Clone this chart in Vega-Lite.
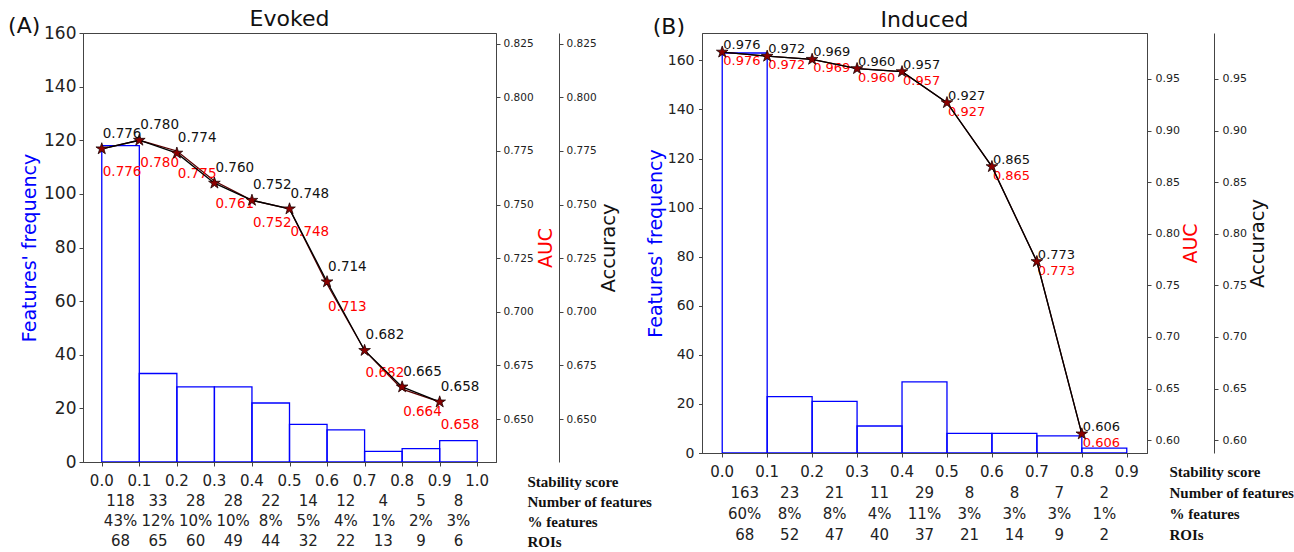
{
  "$schema": "https://vega.github.io/schema/vega-lite/v6.json",
  "padding": {"left": 8, "top": 7, "right": 0, "bottom": 0},
  "config": {
    "font": "DejaVu Sans",
    "view": {"stroke": "#444"},
    "axis": {"grid": false, "domainColor": "#444", "tickColor": "#444", "labelColor": "#222", "titleColor": "#111", "titleFontWeight": "normal", "labelFlush": false, "labelOverlap": false},
    "title": {"fontWeight": "normal", "color": "#111"}
  },
  "datasets": {
    "histA": [
      {"start": 0.0, "end": 0.1, "count": 118},
      {"start": 0.1, "end": 0.2, "count": 33},
      {"start": 0.2, "end": 0.3, "count": 28},
      {"start": 0.3, "end": 0.4, "count": 28},
      {"start": 0.4, "end": 0.5, "count": 22},
      {"start": 0.5, "end": 0.6, "count": 14},
      {"start": 0.6, "end": 0.7, "count": 12},
      {"start": 0.7, "end": 0.8, "count": 4},
      {"start": 0.8, "end": 0.9, "count": 5},
      {"start": 0.9, "end": 1.0, "count": 8}
    ],
    "lineA": [
      {"score": 0.0, "acc": 0.776, "auc": 0.776},
      {"score": 0.1, "acc": 0.780, "auc": 0.780},
      {"score": 0.2, "acc": 0.774, "auc": 0.775},
      {"score": 0.3, "acc": 0.760, "auc": 0.761},
      {"score": 0.4, "acc": 0.752, "auc": 0.752},
      {"score": 0.5, "acc": 0.748, "auc": 0.748},
      {"score": 0.6, "acc": 0.714, "auc": 0.713},
      {"score": 0.7, "acc": 0.682, "auc": 0.682},
      {"score": 0.8, "acc": 0.665, "auc": 0.664},
      {"score": 0.9, "acc": 0.658, "auc": 0.658}
    ],
    "tableA": [
      {"row": "Stability score", "pos": 0.0, "label": "0.0"},
      {"row": "Stability score", "pos": 0.1, "label": "0.1"},
      {"row": "Stability score", "pos": 0.2, "label": "0.2"},
      {"row": "Stability score", "pos": 0.3, "label": "0.3"},
      {"row": "Stability score", "pos": 0.4, "label": "0.4"},
      {"row": "Stability score", "pos": 0.5, "label": "0.5"},
      {"row": "Stability score", "pos": 0.6, "label": "0.6"},
      {"row": "Stability score", "pos": 0.7, "label": "0.7"},
      {"row": "Stability score", "pos": 0.8, "label": "0.8"},
      {"row": "Stability score", "pos": 0.9, "label": "0.9"},
      {"row": "Stability score", "pos": 1.0, "label": "1.0"},
      {"row": "Number of features", "pos": 0.05, "label": "118"},
      {"row": "Number of features", "pos": 0.15, "label": "33"},
      {"row": "Number of features", "pos": 0.25, "label": "28"},
      {"row": "Number of features", "pos": 0.35, "label": "28"},
      {"row": "Number of features", "pos": 0.45, "label": "22"},
      {"row": "Number of features", "pos": 0.55, "label": "14"},
      {"row": "Number of features", "pos": 0.65, "label": "12"},
      {"row": "Number of features", "pos": 0.75, "label": "4"},
      {"row": "Number of features", "pos": 0.85, "label": "5"},
      {"row": "Number of features", "pos": 0.95, "label": "8"},
      {"row": "% features", "pos": 0.05, "label": "43%"},
      {"row": "% features", "pos": 0.15, "label": "12%"},
      {"row": "% features", "pos": 0.25, "label": "10%"},
      {"row": "% features", "pos": 0.35, "label": "10%"},
      {"row": "% features", "pos": 0.45, "label": "8%"},
      {"row": "% features", "pos": 0.55, "label": "5%"},
      {"row": "% features", "pos": 0.65, "label": "4%"},
      {"row": "% features", "pos": 0.75, "label": "1%"},
      {"row": "% features", "pos": 0.85, "label": "2%"},
      {"row": "% features", "pos": 0.95, "label": "3%"},
      {"row": "ROIs", "pos": 0.05, "label": "68"},
      {"row": "ROIs", "pos": 0.15, "label": "65"},
      {"row": "ROIs", "pos": 0.25, "label": "60"},
      {"row": "ROIs", "pos": 0.35, "label": "49"},
      {"row": "ROIs", "pos": 0.45, "label": "44"},
      {"row": "ROIs", "pos": 0.55, "label": "32"},
      {"row": "ROIs", "pos": 0.65, "label": "22"},
      {"row": "ROIs", "pos": 0.75, "label": "13"},
      {"row": "ROIs", "pos": 0.85, "label": "9"},
      {"row": "ROIs", "pos": 0.95, "label": "6"}
    ],
    "histB": [
      {"start": 0.0, "end": 0.1, "count": 163},
      {"start": 0.1, "end": 0.2, "count": 23},
      {"start": 0.2, "end": 0.3, "count": 21},
      {"start": 0.3, "end": 0.4, "count": 11},
      {"start": 0.4, "end": 0.5, "count": 29},
      {"start": 0.5, "end": 0.6, "count": 8},
      {"start": 0.6, "end": 0.7, "count": 8},
      {"start": 0.7, "end": 0.8, "count": 7},
      {"start": 0.8, "end": 0.9, "count": 2}
    ],
    "lineB": [
      {"score": 0.0, "acc": 0.976, "auc": 0.976},
      {"score": 0.1, "acc": 0.972, "auc": 0.972},
      {"score": 0.2, "acc": 0.969, "auc": 0.969},
      {"score": 0.3, "acc": 0.960, "auc": 0.960},
      {"score": 0.4, "acc": 0.957, "auc": 0.957},
      {"score": 0.5, "acc": 0.927, "auc": 0.927},
      {"score": 0.6, "acc": 0.865, "auc": 0.865},
      {"score": 0.7, "acc": 0.773, "auc": 0.773},
      {"score": 0.8, "acc": 0.606, "auc": 0.606}
    ],
    "tableB": [
      {"row": "Stability score", "pos": 0.0, "label": "0.0"},
      {"row": "Stability score", "pos": 0.1, "label": "0.1"},
      {"row": "Stability score", "pos": 0.2, "label": "0.2"},
      {"row": "Stability score", "pos": 0.3, "label": "0.3"},
      {"row": "Stability score", "pos": 0.4, "label": "0.4"},
      {"row": "Stability score", "pos": 0.5, "label": "0.5"},
      {"row": "Stability score", "pos": 0.6, "label": "0.6"},
      {"row": "Stability score", "pos": 0.7, "label": "0.7"},
      {"row": "Stability score", "pos": 0.8, "label": "0.8"},
      {"row": "Stability score", "pos": 0.9, "label": "0.9"},
      {"row": "Number of features", "pos": 0.05, "label": "163"},
      {"row": "Number of features", "pos": 0.15, "label": "23"},
      {"row": "Number of features", "pos": 0.25, "label": "21"},
      {"row": "Number of features", "pos": 0.35, "label": "11"},
      {"row": "Number of features", "pos": 0.45, "label": "29"},
      {"row": "Number of features", "pos": 0.55, "label": "8"},
      {"row": "Number of features", "pos": 0.65, "label": "8"},
      {"row": "Number of features", "pos": 0.75, "label": "7"},
      {"row": "Number of features", "pos": 0.85, "label": "2"},
      {"row": "% features", "pos": 0.05, "label": "60%"},
      {"row": "% features", "pos": 0.15, "label": "8%"},
      {"row": "% features", "pos": 0.25, "label": "8%"},
      {"row": "% features", "pos": 0.35, "label": "4%"},
      {"row": "% features", "pos": 0.45, "label": "11%"},
      {"row": "% features", "pos": 0.55, "label": "3%"},
      {"row": "% features", "pos": 0.65, "label": "3%"},
      {"row": "% features", "pos": 0.75, "label": "3%"},
      {"row": "% features", "pos": 0.85, "label": "1%"},
      {"row": "ROIs", "pos": 0.05, "label": "68"},
      {"row": "ROIs", "pos": 0.15, "label": "52"},
      {"row": "ROIs", "pos": 0.25, "label": "47"},
      {"row": "ROIs", "pos": 0.35, "label": "40"},
      {"row": "ROIs", "pos": 0.45, "label": "37"},
      {"row": "ROIs", "pos": 0.55, "label": "21"},
      {"row": "ROIs", "pos": 0.65, "label": "14"},
      {"row": "ROIs", "pos": 0.75, "label": "9"},
      {"row": "ROIs", "pos": 0.85, "label": "2"}
    ]
  },
  "spacing": -7,
  "hconcat": [
    {
      "title": {"text": "(A)", "anchor": "start", "frame": "bounds", "fontSize": 22, "offset": 0, "dx": -12, "dy": 30},
      "spacing": 0,
      "vconcat": [
        {
          "title": {"text": "Evoked", "fontSize": 22, "offset": -7},
          "width": 413,
          "height": 429,
          "layer": [
            {
              "data": {"name": "histA"},
              "mark": {"type": "rect", "fill": "transparent", "stroke": "#0000ff", "strokeWidth": 1.3},
              "encoding": {
                "x": {"field": "start", "type": "quantitative", "scale": {"domain": [-0.05, 1.05], "nice": false, "zero": false},
                      "axis": {"values": [0, 0.1, 0.2, 0.3, 0.4, 0.5, 0.6, 0.7, 0.8, 0.9, 1.0], "labels": false, "tickSize": 4, "title": null, "zindex": 1}},
                "x2": {"field": "end"},
                "y": {"field": "count", "type": "quantitative", "scale": {"domain": [0, 160], "nice": false},
                      "axis": {"orient": "left", "values": [0, 20, 40, 60, 80, 100, 120, 140, 160], "title": "Features' frequency", "titleColor": "#0000ff", "titleFontSize": 19, "labelFontSize": 17, "tickSize": 4, "labelPadding": 3, "titlePadding": 4, "zindex": 1}},
                "y2": {"datum": 0}
              }
            },
            {
              "data": {"name": "lineA"},
              "encoding": {
                "x": {"field": "score", "type": "quantitative"},
                "y": {"field": "auc", "type": "quantitative", "scale": {"domain": [0.63, 0.83], "nice": false, "zero": false},
                      "axis": {"orient": "right", "values": [0.65, 0.675, 0.7, 0.725, 0.75, 0.775, 0.8, 0.825], "format": ".3f", "title": "AUC", "titleColor": "#ff0000", "titleFontSize": 19, "titleAngle": 270, "titleBaseline": "top", "labelFontSize": 10.5, "tickSize": 4, "labelPadding": 3, "titlePadding": 3}}
              },
              "layer": [
                {"mark": {"type": "line", "color": "#5a0000", "strokeWidth": 1.3}},
                {"mark": {"type": "text", "color": "#ff0000", "align": "left", "baseline": "middle", "dx": 1, "dy": 23, "fontSize": 13.5},
                 "encoding": {"text": {"field": "auc", "type": "quantitative", "format": ".3f"}}}
              ]
            },
            {
              "data": {"name": "lineA"},
              "encoding": {
                "x": {"field": "score", "type": "quantitative"},
                "y": {"field": "acc", "type": "quantitative", "scale": {"domain": [0.63, 0.83], "nice": false, "zero": false},
                      "axis": {"orient": "right", "offset": 63, "values": [0.65, 0.675, 0.7, 0.725, 0.75, 0.775, 0.8, 0.825], "format": ".3f", "title": "Accuracy", "titleFontSize": 19.5, "titleAngle": 270, "titleBaseline": "top", "labelFontSize": 10.5, "tickSize": 4, "labelPadding": 3, "titlePadding": 3}}
              },
              "layer": [
                {"mark": {"type": "line", "color": "#000000", "strokeWidth": 1.3}},
                {"mark": {"type": "point", "shape": "M0,-1L0.2245,-0.309L0.951,-0.309L0.363,0.118L0.588,0.809L0,0.382L-0.588,0.809L-0.363,0.118L-0.951,-0.309L-0.2245,-0.309Z", "size": 150, "filled": true, "fill": "#8b0000", "stroke": "#1a0000", "strokeWidth": 0.8, "opacity": 1}},
                {"mark": {"type": "text", "color": "#111111", "align": "left", "baseline": "middle", "dx": 1, "dy": -15, "fontSize": 13.5},
                 "encoding": {"text": {"field": "acc", "type": "quantitative", "format": ".3f"}}}
              ]
            }
          ],
          "resolve": {"scale": {"y": "independent"}}
        },
        {
          "width": 413,
          "height": {"step": 20},
          "view": {"stroke": null},
          "data": {"name": "tableA"},
          "mark": {"type": "text", "fontSize": 15, "color": "#222222", "baseline": "middle"},
          "encoding": {
            "x": {"field": "pos", "type": "quantitative", "scale": {"domain": [-0.05, 1.05], "nice": false, "zero": false}, "axis": null},
            "y": {"field": "row", "type": "nominal", "sort": ["Stability score", "Number of features", "% features", "ROIs"],
                  "axis": {"orient": "right", "title": null, "domain": false, "ticks": false, "labelFont": "Liberation Serif", "labelFontWeight": "bold", "labelFontSize": 15, "labelPadding": 31, "labelColor": "#111111"}},
            "text": {"field": "label", "type": "nominal"}
          }
        }
      ]
    },
    {
      "title": {"text": "(B)", "anchor": "start", "frame": "bounds", "fontSize": 22, "offset": 0, "dx": 7, "dy": 30},
      "spacing": 0,
      "vconcat": [
        {
          "title": {"text": "Induced", "fontSize": 22, "offset": 1},
          "width": 445,
          "height": 420,
          "layer": [
            {
              "data": {"name": "histB"},
              "mark": {"type": "rect", "fill": "transparent", "stroke": "#0000ff", "strokeWidth": 1.3},
              "encoding": {
                "x": {"field": "start", "type": "quantitative", "scale": {"domain": [-0.045, 0.945], "nice": false, "zero": false},
                      "axis": {"values": [0, 0.1, 0.2, 0.3, 0.4, 0.5, 0.6, 0.7, 0.8, 0.9], "labels": false, "tickSize": 4, "title": null, "zindex": 1}},
                "x2": {"field": "end"},
                "y": {"field": "count", "type": "quantitative", "scale": {"domain": [0, 171.15], "nice": false},
                      "axis": {"orient": "left", "values": [0, 20, 40, 60, 80, 100, 120, 140, 160], "title": "Features' frequency", "titleColor": "#0000ff", "titleFontSize": 19, "labelFontSize": 14, "tickSize": 3.5, "labelPadding": 4.5, "titlePadding": 2, "zindex": 1}},
                "y2": {"datum": 0}
              }
            },
            {
              "data": {"name": "lineB"},
              "encoding": {
                "x": {"field": "score", "type": "quantitative"},
                "y": {"field": "auc", "type": "quantitative", "scale": {"domain": [0.5875, 0.9945], "nice": false, "zero": false},
                      "axis": {"orient": "right", "values": [0.6, 0.65, 0.7, 0.75, 0.8, 0.85, 0.9, 0.95], "format": ".2f", "title": "AUC", "titleColor": "#ff0000", "titleFontSize": 19, "titleAngle": 270, "titleBaseline": "top", "labelFontSize": 11, "tickSize": 4, "labelPadding": 4, "titlePadding": 2}}
              },
              "layer": [
                {"mark": {"type": "line", "color": "#5a0000", "strokeWidth": 1.3}},
                {"mark": {"type": "text", "color": "#ff0000", "align": "left", "baseline": "middle", "dx": 1, "dy": 9, "fontSize": 13},
                 "encoding": {"text": {"field": "auc", "type": "quantitative", "format": ".3f"}}}
              ]
            },
            {
              "data": {"name": "lineB"},
              "encoding": {
                "x": {"field": "score", "type": "quantitative"},
                "y": {"field": "acc", "type": "quantitative", "scale": {"domain": [0.5875, 0.9945], "nice": false, "zero": false},
                      "axis": {"orient": "right", "offset": 67, "values": [0.6, 0.65, 0.7, 0.75, 0.8, 0.85, 0.9, 0.95], "format": ".2f", "title": "Accuracy", "titleFontSize": 19.5, "titleAngle": 270, "titleBaseline": "top", "labelFontSize": 11, "tickSize": 4, "labelPadding": 4, "titlePadding": 2}}
              },
              "layer": [
                {"mark": {"type": "line", "color": "#000000", "strokeWidth": 1.3}},
                {"mark": {"type": "point", "shape": "M0,-1L0.2245,-0.309L0.951,-0.309L0.363,0.118L0.588,0.809L0,0.382L-0.588,0.809L-0.363,0.118L-0.951,-0.309L-0.2245,-0.309Z", "size": 150, "filled": true, "fill": "#8b0000", "stroke": "#1a0000", "strokeWidth": 0.8, "opacity": 1}},
                {"mark": {"type": "text", "color": "#111111", "align": "left", "baseline": "middle", "dx": 1, "dy": -7, "fontSize": 13},
                 "encoding": {"text": {"field": "acc", "type": "quantitative", "format": ".3f"}}}
              ]
            }
          ],
          "resolve": {"scale": {"y": "independent"}}
        },
        {
          "width": 445,
          "height": {"step": 21},
          "view": {"stroke": null},
          "data": {"name": "tableB"},
          "mark": {"type": "text", "fontSize": 15, "color": "#222222", "baseline": "middle"},
          "encoding": {
            "x": {"field": "pos", "type": "quantitative", "scale": {"domain": [-0.045, 0.945], "nice": false, "zero": false}, "axis": null},
            "y": {"field": "row", "type": "nominal", "sort": ["Stability score", "Number of features", "% features", "ROIs"],
                  "axis": {"orient": "right", "title": null, "domain": false, "ticks": false, "labelFont": "Liberation Serif", "labelFontWeight": "bold", "labelFontSize": 15, "labelPadding": 22, "labelColor": "#111111"}},
            "text": {"field": "label", "type": "nominal"}
          }
        }
      ]
    }
  ]
}
